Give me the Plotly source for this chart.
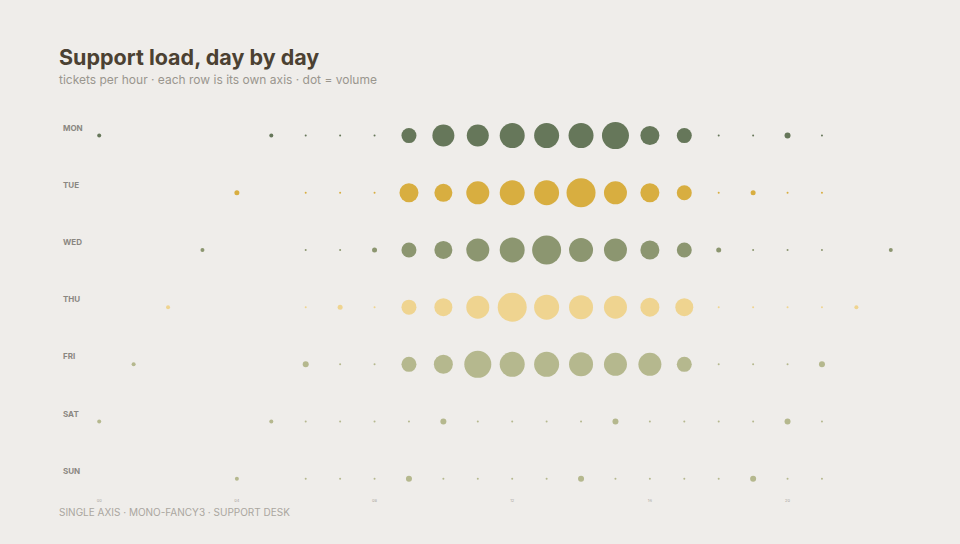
import plotly.graph_objects as go

days = ["MON", "TUE", "WED", "THU", "FRI", "SAT", "SUN"]
hours = list(range(24))
hour_tick_vals = [0, 4, 8, 12, 16, 20]
hour_tick_text = ["00", "04", "08", "12", "16", "20"]

# tickets per hour (0 = no dot)
mon = [4, 0, 0, 0, 0, 4, 2, 2, 2, 15, 22, 22, 25, 25, 25, 27, 19, 15, 2, 2, 6, 2, 0, 0]
tue = [0, 0, 0, 0, 5, 0, 2, 2, 2, 19, 18, 23, 25, 25, 29, 23, 19, 15, 2, 5, 2, 2, 0, 0]
wed = [0, 0, 0, 4, 0, 0, 2, 2, 5, 15, 18, 23, 25, 29, 24, 23, 19, 15, 5, 2, 2, 2, 0, 4]
thu = [0, 0, 4, 0, 0, 0, 2, 5, 2, 15, 18, 23, 29, 25, 24, 23, 19, 18, 2, 2, 2, 2, 4, 0]
fri = [0, 4, 0, 0, 0, 0, 6, 2, 2, 15, 19, 27, 25, 25, 24, 23, 23, 15, 2, 2, 2, 6, 0, 0]
sat = [4, 0, 0, 0, 0, 4, 2, 2, 2, 2, 6, 2, 2, 2, 2, 6, 2, 2, 2, 2, 6, 2, 0, 0]
sun = [0, 0, 0, 0, 4, 0, 2, 2, 2, 6, 2, 2, 2, 2, 6, 2, 2, 2, 2, 6, 2, 2, 0, 0]

series = [mon, tue, wed, thu, fri, sat, sun]
colors = ["#66775a", "#d8ae40", "#8c9670", "#efd490", "#b5b88e", "#b5b88e", "#b5b88e"]

W, H = 960, 544
l, r, t, b = 82, 52, 107, 51
pw, ph = W - l - r, H - t - b
y_range = [6.25, -0.5]


def px_x(px):
    return (px - l) / pw


def px_y(py):
    return 1 - (py - t) / ph


fig = go.Figure()
for i, (day, vals, col) in enumerate(zip(days, series, colors)):
    xs = [h for h, v in zip(hours, vals) if v > 0]
    ss = [v for v in vals if v > 0]
    fig.add_trace(go.Scatter(
        x=xs, y=[i] * len(xs), mode="markers",
        marker=dict(size=ss, sizemode="diameter", color=col, line=dict(width=0), opacity=1),
        cliponaxis=False, showlegend=False, name=day,
        hovertemplate=day + " %{x}:00 · %{marker.size} tickets<extra></extra>",
    ))
    fig.add_annotation(
        x=px_x(61), y=i - 0.14, xref="paper", yref="y", text="<b>" + day + "</b>",
        showarrow=False, xanchor="left", yanchor="middle",
        font=dict(family="Inter, sans-serif", size=8, color="#8a8781"),
    )

fig.update_layout(
    width=W, height=H,
    paper_bgcolor="#efedea", plot_bgcolor="#efedea",
    margin=dict(l=l, r=r, t=t, b=b),
    xaxis=dict(range=[-0.5, 23.5], tickvals=hour_tick_vals, ticktext=hour_tick_text,
               showgrid=False, zeroline=False, showline=False,
               ticks="outside", ticklen=3, tickcolor="rgba(0,0,0,0)",
               tickfont=dict(family="Inter, sans-serif", size=4, color="#a9a59e")),
    yaxis=dict(range=y_range, showgrid=False, zeroline=False, showline=False,
               showticklabels=False),
    font=dict(family="Inter, sans-serif"),
)

fig.add_annotation(x=px_x(57), y=px_y(57), xref="paper", yref="paper",
                   text="<b>Support load, day by day</b>",
                   showarrow=False, xanchor="left", yanchor="middle",
                   font=dict(family="Inter, sans-serif", size=21.5, color="#4b4132"))
fig.add_annotation(x=px_x(57), y=px_y(80), xref="paper", yref="paper",
                   text="tickets per hour · each row is its own axis · dot = volume",
                   showarrow=False, xanchor="left", yanchor="middle",
                   font=dict(family="Inter, sans-serif", size=12, color="#9a968e"))
fig.add_annotation(x=px_x(57), y=px_y(512), xref="paper", yref="paper",
                   text="SINGLE AXIS · MONO-FANCY3 · SUPPORT DESK",
                   showarrow=False, xanchor="left", yanchor="middle",
                   font=dict(family="Inter, sans-serif", size=10, color="#aaa69f"))

fig.write_html(
    "out.html",
    config={"displayModeBar": False},
    post_script="document.body.style.margin='0';document.body.style.background='#efedea';",
)
